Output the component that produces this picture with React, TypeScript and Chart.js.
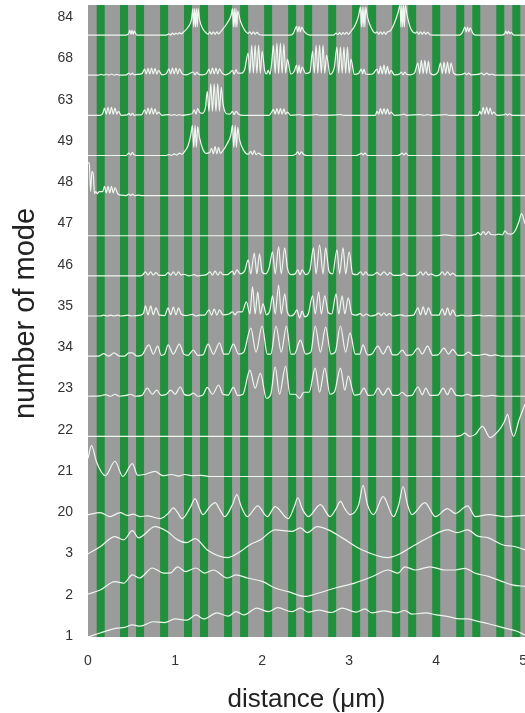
import React, { useEffect, useRef } from 'react';
import { Chart, registerables } from 'chart.js';

Chart.register(...registerables);

const FONT = "'Liberation Sans', Arial, sans-serif";

// y tick labels (number of mode), bottom to top
const modeLabels = ['1', '2', '3', '20', '21', '22', '23', '34', '35', '46', '47', '48', '49', '63', '68', '84'];
// x tick labels (distance, um)
const xTickValues = [0, 1, 2, 3, 4, 5];
const xTitle = 'distance (\u03bcm)';
const yTitle = 'number of mode';
// green stripes: start positions (um) and width (um)
const stripeStarts = [0.100, 0.368, 0.552, 0.828, 1.103, 1.287, 1.563, 1.747, 2.023, 2.299, 2.483, 2.759, 3.034, 3.218, 3.494, 3.678, 3.954, 4.230, 4.414, 4.690, 4.874];
const stripeWidth = 0.092;

// Each trace: flat list of (distance um, amplitude in row units) pairs
const mode1 = [0, 0, 0.14, 0.1, 0.33, 0.22, 0.42, 0.24, 0.51, 0.3, 0.6, 0.27, 0.75, 0.38, 0.88, 0.36, 1.0, 0.45, 1.14, 0.42, 1.24, 0.55, 1.33, 0.45, 1.48, 0.6, 1.61, 0.52, 1.7, 0.63, 1.79, 0.55, 1.94, 0.72, 2.07, 0.63, 2.18, 0.73, 2.34, 0.63, 2.44, 0.72, 2.53, 0.62, 2.65, 0.67, 2.8, 0.61, 2.92, 0.72, 3.08, 0.62, 3.18, 0.7, 3.26, 0.6, 3.4, 0.65, 3.54, 0.6, 3.64, 0.66, 3.72, 0.57, 3.88, 0.6, 4.0, 0.55, 4.14, 0.51, 4.27, 0.45, 4.36, 0.45, 4.46, 0.4, 4.6, 0.33, 4.79, 0.22, 4.92, 0.15, 5.02, 0.05];

const mode2 = [0, 0.07, 0.14, 0.17, 0.31, 0.38, 0.41, 0.34, 0.51, 0.55, 0.59, 0.47, 0.74, 0.72, 0.87, 0.59, 0.95, 0.6, 1.03, 0.75, 1.12, 0.63, 1.24, 0.72, 1.34, 0.59, 1.44, 0.67, 1.6, 0.47, 1.7, 0.55, 1.83, 0.47, 2.01, 0.38, 2.15, 0.22, 2.3, 0.13, 2.49, 0.01, 2.64, 0.09, 2.84, 0.22, 3.07, 0.35, 3.26, 0.5, 3.45, 0.67, 3.56, 0.59, 3.64, 0.75, 3.76, 0.67, 3.93, 0.75, 4.1, 0.67, 4.22, 0.67, 4.33, 0.71, 4.45, 0.59, 4.6, 0.51, 4.76, 0.38, 4.87, 0.3, 5.02, 0.26];

const mode3 = [0, 0.07, 0.14, 0.25, 0.31, 0.5, 0.41, 0.42, 0.51, 0.65, 0.58, 0.47, 0.77, 0.75, 0.91, 0.63, 1.03, 0.42, 1.13, 0.35, 1.23, 0.45, 1.37, 0.17, 1.6, -0.02, 1.75, 0.13, 1.86, 0.3, 1.98, 0.42, 2.15, 0.67, 2.34, 0.63, 2.44, 0.72, 2.52, 0.6, 2.63, 0.75, 2.76, 0.67, 2.92, 0.47, 3.15, 0.17, 3.44, -0.02, 3.56, 0.05, 3.76, 0.3, 3.93, 0.5, 4.13, 0.67, 4.24, 0.6, 4.36, 0.67, 4.47, 0.52, 4.6, 0.47, 4.76, 0.3, 4.91, 0.25, 5.02, 0.17];

const mode20 = [0, 0.05, 0.14, 0.1, 0.25, 0.0, 0.37, 0.1, 0.45, 0.03, 0.52, 0.06, 0.6, 0.0, 0.68, 0.02, 0.83, -0.05, 0.93, 0.1, 0.98, 0.22, 1.03, 0.1, 1.08, -0.05, 1.18, 0.25, 1.23, 0.45, 1.28, 0.2, 1.32, 0.05, 1.4, 0.25, 1.46, 0.35, 1.52, 0.15, 1.57, 0.0, 1.66, 0.3, 1.71, 0.55, 1.76, 0.25, 1.83, 0.0, 1.95, 0.27, 2.06, 0.0, 2.15, 0.25, 2.3, -0.05, 2.37, 0.25, 2.41, 0.47, 2.46, 0.2, 2.53, 0.0, 2.67, 0.3, 2.78, 0.0, 2.85, 0.2, 2.9, 0.38, 2.95, 0.2, 3.01, 0.05, 3.11, 0.3, 3.16, 0.78, 3.21, 0.3, 3.28, 0.05, 3.39, 0.5, 3.51, 0.0, 3.57, 0.3, 3.62, 0.75, 3.67, 0.3, 3.72, 0.05, 3.87, 0.35, 3.99, 0.0, 4.13, 0.2, 4.22, 0.08, 4.36, 0.27, 4.45, 0.0, 4.6, 0.05, 4.79, 0.0, 5.02, 0.03];

const mode21 = [0, 0.45, 0.04, 0.77, 0.1, 0.35, 0.2, 0.02, 0.31, 0.38, 0.4, 0.0, 0.51, 0.32, 0.57, 0.03, 0.65, 0.05, 0.77, 0.13, 0.86, 0.02, 0.96, 0.05, 1.04, 0.01, 1.11, 0.05, 1.2, 0.02, 1.3, 0.03, 1.4, 0.0, 5.02, 0.0];

const mode22 = [0, 0, 4.2, 0, 4.28, 0.02, 4.33, 0.08, 4.38, 0.0, 4.45, 0.05, 4.53, 0.25, 4.62, -0.03, 4.72, 0.15, 4.78, 0.35, 4.82, 0.55, 4.86, 0.15, 4.89, 0.0, 4.95, 0.4, 5.02, 0.8];

const mode23 = [0, 0, 0.14, 0.01, 0.2, 0.04, 0.26, 0.0, 0.31, 0.05, 0.36, 0.0, 0.44, 0.02, 0.49, 0.05, 0.54, 0.0, 0.62, 0.02, 0.68, 0.2, 0.74, 0.05, 0.79, 0.15, 0.84, 0.02, 0.9, 0.05, 0.95, 0.15, 1.0, 0.05, 1.06, 0.23, 1.11, 0.04, 1.16, 0.02, 1.21, 0.08, 1.26, 0.0, 1.32, 0.03, 1.37, 0.22, 1.43, 0.05, 1.5, 0.28, 1.55, 0.05, 1.61, 0.03, 1.67, 0.22, 1.72, 0.02, 1.78, 0.05, 1.86, 0.65, 1.92, 0.2, 1.98, 0.57, 2.05, -0.05, 2.1, 0.05, 2.15, 0.73, 2.2, 0.05, 2.27, 0.75, 2.32, 0.05, 2.38, 0.05, 2.43, -0.05, 2.48, 0.1, 2.54, 0.1, 2.61, 0.7, 2.66, 0.1, 2.72, 0.7, 2.78, 0.05, 2.83, 0.1, 2.9, 0.7, 2.95, 0.15, 2.99, 0.5, 3.06, 0.03, 3.12, 0.05, 3.17, 0.2, 3.22, 0.02, 3.28, 0.03, 3.33, 0.2, 3.39, 0.03, 3.45, 0.2, 3.5, 0.02, 3.56, 0.02, 3.61, 0.1, 3.66, 0.01, 3.72, 0.02, 3.79, 0.23, 3.84, 0.04, 3.88, 0.2, 3.93, 0.02, 4.02, 0.03, 4.08, 0.2, 4.13, 0.04, 4.17, 0.2, 4.23, 0.02, 4.3, 0.01, 4.36, 0.05, 4.41, 0.01, 4.5, 0.02, 4.56, 0.0, 4.64, 0.02, 4.72, 0, 5.02, 0];

const mode34 = [0, 0, 0.12, 0, 0.18, 0.06, 0.24, 0.0, 0.3, 0.08, 0.36, 0.0, 0.42, 0.0, 0.47, 0.08, 0.51, 0.08, 0.56, 0.0, 0.62, 0.03, 0.7, 0.28, 0.75, 0.05, 0.8, 0.25, 0.84, 0.02, 0.88, 0.05, 0.92, 0.28, 0.98, 0.05, 1.05, 0.3, 1.1, 0.05, 1.15, 0.02, 1.21, 0.15, 1.26, 0.02, 1.32, 0.03, 1.38, 0.3, 1.44, 0.05, 1.51, 0.33, 1.56, 0.05, 1.61, 0.05, 1.67, 0.3, 1.73, 0.05, 1.79, 0.1, 1.87, 0.7, 1.93, 0.1, 2.0, 0.75, 2.06, 0.05, 2.1, 0.05, 2.16, 0.75, 2.22, 0.1, 2.28, 0.75, 2.33, 0.05, 2.37, 0.05, 2.44, 0.4, 2.5, 0.05, 2.56, 0.1, 2.61, 0.75, 2.67, 0.1, 2.73, 0.72, 2.79, 0.05, 2.84, 0.1, 2.9, 0.75, 2.96, 0.1, 3.01, 0.58, 3.07, 0.05, 3.12, 0.05, 3.16, 0.28, 3.21, 0.03, 3.26, 0.05, 3.33, 0.25, 3.39, 0.05, 3.45, 0.25, 3.5, 0.03, 3.55, 0.03, 3.61, 0.15, 3.66, 0.02, 3.72, 0.03, 3.79, 0.2, 3.84, 0.05, 3.9, 0.25, 3.96, 0.02, 4.02, 0.03, 4.09, 0.2, 4.14, 0.05, 4.19, 0.17, 4.25, 0.02, 4.31, 0.02, 4.37, 0.1, 4.42, 0.02, 4.48, 0.02, 4.56, 0.05, 4.62, 0.01, 4.68, 0.03, 4.75, 0.0, 5.02, 0];

const mode35 = [0, 0, 0.14, 0, 0.18, 0.02, 0.22, 0, 0.26, 0.02, 0.3, 0, 0.34, 0.02, 0.38, 0, 0.46, 0.02, 0.5, 0, 0.6, 0.02, 0.64, 0.08, 0.66, 0.25, 0.69, 0.03, 0.72, 0.25, 0.75, 0.03, 0.78, 0.2, 0.82, 0.02, 0.88, 0.01, 0.92, 0.2, 0.95, 0.03, 0.98, 0.22, 1.01, 0.03, 1.04, 0.2, 1.07, 0.05, 1.12, 0.01, 1.2, 0.04, 1.24, 0, 1.28, 0.02, 1.34, 0.02, 1.39, 0.15, 1.42, 0.02, 1.45, 0.17, 1.48, 0.02, 1.51, 0.15, 1.55, 0.03, 1.62, 0.05, 1.66, 0.1, 1.69, 0.03, 1.72, 0.1, 1.77, 0.1, 1.82, 0.35, 1.86, 0.05, 1.89, 0.73, 1.92, 0.05, 1.95, 0.6, 1.98, 0.05, 2.01, 0.3, 2.05, 0.03, 2.09, 0.15, 2.12, 0.5, 2.15, 0.05, 2.19, 0.77, 2.22, 0.05, 2.26, 0.55, 2.29, 0.1, 2.33, 0.0, 2.37, 0.05, 2.4, 0.15, 2.43, -0.05, 2.46, 0.12, 2.49, -0.02, 2.53, 0.05, 2.58, 0.5, 2.61, 0.05, 2.65, 0.6, 2.68, 0.05, 2.72, 0.5, 2.76, 0.08, 2.8, 0.05, 2.85, 0.55, 2.88, 0.05, 2.92, 0.5, 2.95, 0.05, 2.99, 0.45, 3.03, 0.05, 3.08, 0.02, 3.13, 0.06, 3.16, 0, 3.2, 0.05, 3.24, 0, 3.3, 0.02, 3.34, 0.07, 3.37, 0.01, 3.4, 0.08, 3.43, 0.01, 3.46, 0.06, 3.5, 0, 3.6, 0.03, 3.64, 0.0, 3.74, 0.02, 3.79, 0.2, 3.82, 0.03, 3.85, 0.23, 3.88, 0.03, 3.91, 0.2, 3.95, 0.02, 4.03, 0.02, 4.07, 0.18, 4.1, 0.02, 4.13, 0.2, 4.16, 0.02, 4.19, 0.15, 4.23, 0.0, 4.3, 0.02, 4.34, 0, 4.5, 0.02, 4.54, 0, 4.6, 0.01, 4.7, 0, 5.02, 0];

const mode46 = [0, 0, 0.6, 0, 0.63, 0.03, 0.66, 0.1, 0.69, 0.02, 0.72, 0.1, 0.75, 0.02, 0.78, 0.08, 0.82, 0.01, 0.88, 0.01, 0.92, 0.08, 0.95, 0.02, 0.98, 0.1, 1.01, 0.02, 1.04, 0.1, 1.07, 0.02, 1.1, 0.04, 1.16, 0, 1.22, 0.03, 1.25, 0.0, 1.3, 0.01, 1.36, 0.03, 1.4, 0.1, 1.43, 0.02, 1.46, 0.12, 1.49, 0.02, 1.52, 0.1, 1.55, 0.03, 1.6, 0.03, 1.66, 0.12, 1.68, 0.03, 1.71, 0.15, 1.75, 0.05, 1.8, 0.12, 1.84, 0.4, 1.87, 0.05, 1.91, 0.57, 1.94, 0.05, 1.97, 0.55, 2.0, 0.1, 2.04, 0.05, 2.08, 0.2, 2.12, 0.6, 2.15, 0.05, 2.19, 0.73, 2.22, 0.05, 2.26, 0.7, 2.29, 0.2, 2.33, 0.03, 2.38, 0.05, 2.41, 0.15, 2.435, 0.03, 2.46, 0.15, 2.5, 0.03, 2.55, 0.15, 2.59, 0.7, 2.62, 0.05, 2.66, 0.77, 2.7, 0.05, 2.73, 0.7, 2.77, 0.1, 2.81, 0.05, 2.86, 0.65, 2.89, 0.05, 2.93, 0.7, 2.96, 0.05, 3.0, 0.6, 3.04, 0.05, 3.09, 0.03, 3.13, 0.1, 3.16, 0.02, 3.19, 0.1, 3.22, 0.02, 3.27, 0.02, 3.32, 0.08, 3.36, 0.02, 3.4, 0.1, 3.44, 0.02, 3.47, 0.08, 3.51, 0.01, 3.6, 0.02, 3.63, 0.06, 3.66, 0.01, 3.72, 0, 3.79, 0.03, 3.82, 0.1, 3.85, 0.02, 3.88, 0.1, 3.91, 0.02, 3.94, 0.05, 3.99, 0, 4.04, 0.03, 4.07, 0.1, 4.1, 0.02, 4.13, 0.1, 4.16, 0.02, 4.19, 0.07, 4.23, 0, 5.02, 0];

const mode47 = [0, 0, 4.0, 0, 4.1, 0.02, 4.2, 0.0, 4.35, 0.0, 4.45, 0.03, 4.48, 0.08, 4.51, 0.02, 4.54, 0.1, 4.57, 0.03, 4.6, 0.1, 4.63, 0.03, 4.68, 0.02, 4.72, 0.04, 4.76, 0.02, 4.79, 0.12, 4.82, 0.05, 4.86, 0.04, 4.9, 0.1, 4.95, 0.35, 4.98, 0.55, 5.02, 0.3];

const mode48 = [0, 0.82, 0.015, 0.8, 0.03, 0.1, 0.045, 0.6, 0.06, 0.55, 0.075, 0.05, 0.09, 0.1, 0.105, 0.05, 0.13, 0.1, 0.17, 0.1, 0.19, 0.23, 0.21, 0.07, 0.23, 0.23, 0.25, 0.07, 0.27, 0.23, 0.29, 0.07, 0.31, 0.2, 0.34, 0.05, 0.38, 0.01, 0.44, 0, 0.47, 0.04, 0.49, 0, 0.51, 0.04, 0.53, 0, 0.58, 0.01, 0.62, 0, 5.02, 0];

const mode49 = [0, 0, 0.44, 0, 0.47, 0.06, 0.49, 0.01, 0.51, 0.08, 0.53, 0.01, 0.56, 0, 0.9, 0, 0.93, 0.02, 0.96, 0.0, 0.99, 0.04, 1.02, 0.01, 1.05, 0.06, 1.08, 0.03, 1.11, 0.1, 1.15, 0.25, 1.18, 0.5, 1.2, 0.75, 1.215, 0.2, 1.23, 0.75, 1.245, 0.2, 1.26, 0.72, 1.28, 0.45, 1.32, 0.15, 1.36, 0.05, 1.4, 0.08, 1.42, 0.18, 1.44, 0.04, 1.46, 0.22, 1.48, 0.04, 1.5, 0.2, 1.52, 0.05, 1.55, 0.12, 1.6, 0.3, 1.64, 0.5, 1.66, 0.75, 1.675, 0.2, 1.69, 0.75, 1.705, 0.2, 1.72, 0.7, 1.74, 0.4, 1.79, 0.12, 1.84, 0.03, 1.87, 0.1, 1.89, 0.02, 1.91, 0.12, 1.93, 0.02, 1.96, 0.06, 2.0, 0, 2.35, 0, 2.39, 0.04, 2.41, 0.09, 2.43, 0.02, 2.45, 0.09, 2.48, 0.02, 2.52, 0, 3.08, 0, 3.12, 0.03, 3.14, 0.06, 3.16, 0.01, 3.18, 0.06, 3.21, 0, 3.56, 0, 3.59, 0.03, 3.61, 0.06, 3.63, 0.01, 3.65, 0.06, 3.68, 0, 5.02, 0];

const mode63 = [0, 0, 0.14, 0, 0.17, 0.05, 0.19, 0.18, 0.21, 0.03, 0.23, 0.2, 0.25, 0.03, 0.27, 0.2, 0.29, 0.03, 0.31, 0.18, 0.33, 0.03, 0.35, 0.1, 0.38, 0, 0.45, 0.01, 0.47, 0.05, 0.49, 0.0, 0.51, 0.05, 0.53, 0.0, 0.56, 0.01, 0.62, 0.02, 0.65, 0.14, 0.67, 0.03, 0.69, 0.18, 0.71, 0.03, 0.73, 0.18, 0.75, 0.03, 0.77, 0.16, 0.79, 0.03, 0.81, 0.08, 0.85, 0, 0.93, 0.02, 0.96, 0, 0.99, 0.02, 1.02, 0, 1.05, 0.02, 1.08, 0, 1.15, 0.02, 1.2, 0.05, 1.22, 0.14, 1.24, 0.03, 1.26, 0.17, 1.28, 0.08, 1.31, 0.05, 1.35, 0.2, 1.37, 0.6, 1.39, 0.1, 1.41, 0.79, 1.43, 0.1, 1.45, 0.79, 1.47, 0.1, 1.49, 0.79, 1.51, 0.1, 1.53, 0.7, 1.55, 0.3, 1.59, 0.04, 1.63, 0.03, 1.66, 0.1, 1.68, 0.02, 1.7, 0.1, 1.73, 0.03, 1.78, 0, 2.08, 0, 2.11, 0.08, 2.13, 0.15, 2.15, 0.03, 2.17, 0.17, 2.19, 0.03, 2.21, 0.17, 2.23, 0.03, 2.25, 0.16, 2.27, 0.03, 2.29, 0.08, 2.33, 0, 2.4, 0.01, 2.43, 0.02, 2.46, 0, 2.6, 0.01, 2.63, 0.02, 2.66, 0, 2.86, 0.01, 2.9, 0.02, 2.94, 0, 3.3, 0, 3.32, 0.1, 3.34, 0.03, 3.36, 0.17, 3.38, 0.03, 3.4, 0.17, 3.42, 0.03, 3.44, 0.16, 3.46, 0.03, 3.48, 0.08, 3.52, 0, 3.6, 0.01, 3.63, 0.03, 3.66, 0, 3.82, 0.02, 3.86, 0, 3.9, 0.02, 3.94, 0, 4.07, 0.01, 4.11, 0.02, 4.15, 0, 4.48, 0, 4.5, 0.1, 4.52, 0.03, 4.54, 0.2, 4.56, 0.03, 4.58, 0.2, 4.6, 0.03, 4.62, 0.18, 4.64, 0.03, 4.66, 0.08, 4.7, 0, 4.78, 0.01, 4.8, 0.04, 4.82, 0.0, 4.84, 0.04, 4.87, 0, 5.02, 0];

const mode68 = [0, 0, 0.12, 0, 0.15, 0.02, 0.18, 0.0, 0.21, 0.03, 0.24, 0.0, 0.27, 0.03, 0.3, 0.0, 0.33, 0.02, 0.36, 0, 0.44, 0.01, 0.47, 0.05, 0.49, 0.01, 0.51, 0.05, 0.53, 0.01, 0.56, 0.02, 0.62, 0.04, 0.65, 0.15, 0.67, 0.03, 0.69, 0.17, 0.71, 0.03, 0.73, 0.18, 0.75, 0.03, 0.77, 0.17, 0.79, 0.03, 0.81, 0.12, 0.85, 0.01, 0.9, 0.04, 0.93, 0.16, 0.95, 0.03, 0.97, 0.18, 0.99, 0.03, 1.01, 0.18, 1.03, 0.03, 1.05, 0.16, 1.08, 0.04, 1.12, 0.01, 1.16, 0.03, 1.21, 0.08, 1.23, 0.01, 1.25, 0.08, 1.27, 0.02, 1.31, 0.01, 1.36, 0.04, 1.39, 0.15, 1.41, 0.03, 1.43, 0.18, 1.45, 0.03, 1.47, 0.18, 1.49, 0.03, 1.51, 0.16, 1.54, 0.05, 1.58, 0.01, 1.62, 0.04, 1.66, 0.12, 1.68, 0.02, 1.7, 0.14, 1.72, 0.05, 1.76, 0.05, 1.8, 0.15, 1.84, 0.55, 1.86, 0.05, 1.88, 0.75, 1.9, 0.05, 1.92, 0.75, 1.94, 0.05, 1.96, 0.75, 1.98, 0.05, 2.0, 0.6, 2.03, 0.1, 2.05, 0.03, 2.07, 0.12, 2.09, 0.02, 2.11, 0.3, 2.13, 0.75, 2.15, 0.05, 2.17, 0.8, 2.19, 0.05, 2.21, 0.8, 2.23, 0.05, 2.25, 0.78, 2.27, 0.05, 2.29, 0.4, 2.33, 0.03, 2.37, 0.1, 2.395, 0.25, 2.41, 0.05, 2.425, 0.25, 2.44, 0.05, 2.46, 0.2, 2.5, 0.04, 2.55, 0.08, 2.58, 0.6, 2.6, 0.05, 2.62, 0.75, 2.64, 0.05, 2.66, 0.75, 2.68, 0.05, 2.7, 0.75, 2.72, 0.05, 2.74, 0.5, 2.78, 0.02, 2.83, 0.2, 2.86, 0.7, 2.88, 0.05, 2.9, 0.7, 2.92, 0.05, 2.94, 0.7, 2.96, 0.05, 2.98, 0.7, 3.0, 0.05, 3.02, 0.4, 3.06, 0.02, 3.11, 0.05, 3.14, 0.15, 3.155, 0.03, 3.17, 0.15, 3.19, 0.03, 3.22, 0.02, 3.27, 0.03, 3.32, 0.15, 3.34, 0.03, 3.36, 0.22, 3.38, 0.03, 3.4, 0.25, 3.42, 0.03, 3.44, 0.22, 3.46, 0.03, 3.48, 0.12, 3.52, 0.01, 3.58, 0.03, 3.6, 0.08, 3.62, 0.01, 3.64, 0.08, 3.66, 0.02, 3.7, 0.01, 3.75, 0.05, 3.79, 0.3, 3.81, 0.04, 3.83, 0.37, 3.85, 0.04, 3.87, 0.37, 3.89, 0.04, 3.91, 0.35, 3.93, 0.05, 3.97, 0.01, 4.02, 0.08, 4.05, 0.3, 4.07, 0.04, 4.09, 0.33, 4.11, 0.04, 4.13, 0.33, 4.15, 0.04, 4.17, 0.3, 4.2, 0.05, 4.24, 0.01, 4.3, 0.02, 4.33, 0.05, 4.35, 0.01, 4.37, 0.05, 4.4, 0.01, 4.48, 0.02, 4.52, 0.05, 4.55, 0.01, 4.58, 0.05, 4.61, 0.01, 4.64, 0.03, 4.68, 0, 5.02, 0];

const mode84 = [0, 0, 0.44, 0, 0.47, 0.05, 0.48, 0.12, 0.495, 0.02, 0.505, 0.12, 0.52, 0.02, 0.53, 0.1, 0.56, 0, 0.9, 0, 0.93, 0.03, 0.95, 0.0, 0.97, 0.05, 0.99, 0.01, 1.01, 0.05, 1.03, 0.02, 1.05, 0.06, 1.07, 0.03, 1.1, 0.08, 1.15, 0.2, 1.19, 0.4, 1.205, 0.66, 1.215, 0.2, 1.225, 0.66, 1.235, 0.2, 1.245, 0.66, 1.255, 0.2, 1.265, 0.66, 1.28, 0.4, 1.32, 0.15, 1.36, 0.05, 1.38, 0.02, 1.4, 0.08, 1.42, 0.02, 1.44, 0.08, 1.46, 0.02, 1.48, 0.08, 1.5, 0.03, 1.53, 0.1, 1.6, 0.3, 1.645, 0.5, 1.66, 0.66, 1.67, 0.2, 1.68, 0.66, 1.69, 0.2, 1.7, 0.66, 1.71, 0.2, 1.72, 0.6, 1.75, 0.35, 1.8, 0.12, 1.84, 0.04, 1.86, 0.08, 1.88, 0.02, 1.9, 0.08, 1.92, 0.02, 1.94, 0.07, 1.97, 0.01, 2.0, 0, 2.33, 0, 2.36, 0.05, 2.38, 0.15, 2.395, 0.22, 2.41, 0.08, 2.425, 0.22, 2.44, 0.08, 2.455, 0.2, 2.48, 0.1, 2.52, 0.02, 2.55, 0, 2.82, 0, 2.85, 0.05, 2.87, 0.01, 2.89, 0.06, 2.91, 0.01, 2.93, 0.06, 2.95, 0.02, 2.97, 0.07, 2.99, 0.02, 3.02, 0.09, 3.07, 0.25, 3.11, 0.5, 3.13, 0.7, 3.14, 0.2, 3.15, 0.7, 3.16, 0.2, 3.17, 0.7, 3.18, 0.2, 3.19, 0.7, 3.21, 0.45, 3.26, 0.15, 3.3, 0.05, 3.32, 0.08, 3.34, 0.02, 3.36, 0.08, 3.38, 0.02, 3.4, 0.08, 3.42, 0.02, 3.44, 0.08, 3.47, 0.1, 3.52, 0.3, 3.56, 0.55, 3.585, 0.75, 3.595, 0.2, 3.605, 0.75, 3.615, 0.2, 3.625, 0.75, 3.635, 0.2, 3.645, 0.75, 3.665, 0.5, 3.71, 0.15, 3.76, 0.05, 3.78, 0.08, 3.8, 0.02, 3.82, 0.08, 3.84, 0.02, 3.86, 0.08, 3.88, 0.02, 3.9, 0.07, 3.93, 0.01, 3.96, 0, 4.27, 0, 4.3, 0.06, 4.33, 0.2, 4.345, 0.08, 4.36, 0.2, 4.375, 0.08, 4.39, 0.18, 4.42, 0.05, 4.45, 0, 4.76, 0, 4.79, 0.05, 4.8, 0.1, 4.815, 0.03, 4.83, 0.1, 4.845, 0.03, 4.86, 0.07, 4.89, 0, 5.02, 0];

const traces = [mode1, mode2, mode3, mode20, mode21, mode22, mode23, mode34, mode35, mode46, mode47, mode48, mode49, mode63, mode68, mode84];

const toPoints = (flat: number[], row: number) => {
  const pts: { x: number; y: number }[] = [];
  for (let i = 0; i + 1 < flat.length; i += 2) pts.push({ x: flat[i], y: flat[i + 1] + row });
  return pts;
};

const stripesPlugin = {
  id: 'stripes',
  beforeDatasetsDraw(chart: any) {
    const { ctx, chartArea: a, scales } = chart;
    const xs = scales.x;
    ctx.save();
    ctx.fillStyle = '#9b9b9b';
    ctx.fillRect(a.left, a.top, a.right - a.left, a.bottom - a.top);
    ctx.fillStyle = '#21903c';
    stripeStarts.forEach((s) => {
      const x1 = xs.getPixelForValue(s);
      const x2 = xs.getPixelForValue(s + stripeWidth);
      ctx.fillRect(x1, a.top, x2 - x1, a.bottom - a.top);
    });
    ctx.restore();
  },
};

const titlesPlugin = {
  id: 'axisTitles',
  afterDraw(chart: any) {
    const { ctx, chartArea: a } = chart;
    ctx.save();
    ctx.fillStyle = '#222';
    ctx.textAlign = 'center';
    ctx.textBaseline = 'alphabetic';
    ctx.font = `26px ${FONT}`;
    ctx.fillText(xTitle, (a.left + a.right) / 2, a.bottom + 70);
    ctx.translate(a.left - 54.5, (a.top + a.bottom) / 2 - 7.5);
    ctx.rotate(-Math.PI / 2);
    ctx.font = `29px ${FONT}`;
    ctx.fillText(yTitle, 0, 0);
    ctx.restore();
  },
};

export default function App() {
  const ref = useRef<HTMLCanvasElement | null>(null);
  useEffect(() => {
    if (!ref.current) return;
    const chart = new Chart(ref.current, {
      type: 'line',
      data: {
        datasets: traces.map((t, i) => ({
          label: modeLabels[i],
          data: toPoints(t, i),
          borderColor: '#eef6ee',
          borderWidth: 1.2,
          pointRadius: 0,
          cubicInterpolationMode: 'monotone' as const,
          fill: false,
        })),
      },
      options: {
        responsive: false,
        animation: false,
        layout: { padding: { top: 5, right: 15, left: 0, bottom: 0 } },
        plugins: { legend: { display: false }, tooltip: { enabled: false } },
        scales: {
          x: {
            type: 'linear',
            min: 0,
            max: 5.02,
            grid: { display: false, drawTicks: false },
            border: { display: false },
            afterBuildTicks: (s: any) => {
              s.ticks = xTickValues.map((v) => ({ value: v }));
            },
            afterFit: (s: any) => {
              s.height = 76;
              s.paddingLeft = 0;
              s.paddingRight = 0;
            },
            ticks: { padding: 16, color: '#333', font: { family: FONT, size: 14 }, autoSkip: false, maxRotation: 0 },
          },
          y: {
            type: 'linear',
            min: 0,
            max: 15.75,
            grid: { display: false, drawTicks: false },
            border: { display: false },
            afterBuildTicks: (s: any) => {
              s.ticks = modeLabels.map((_, i) => ({ value: 0.025 + i * 1.028 }));
            },
            afterFit: (s: any) => {
              s.width = 88;
              s.paddingTop = 0;
              s.paddingBottom = 0;
            },
            ticks: {
              padding: 15,
              color: '#333',
              font: { family: FONT, size: 14 },
              autoSkip: false,
              callback: (_v: any, i: number) => modeLabels[i],
            },
          },
        },
      },
      plugins: [stripesPlugin, titlesPlugin],
    });
    return () => chart.destroy();
  }, []);

  return (
    <div style={{ position: 'fixed', left: 0, top: 0, width: 525, height: 713, overflow: 'hidden', background: '#fff' }}>
      <canvas ref={ref} width={540} height={713} style={{ display: 'block' }} />
    </div>
  );
}
